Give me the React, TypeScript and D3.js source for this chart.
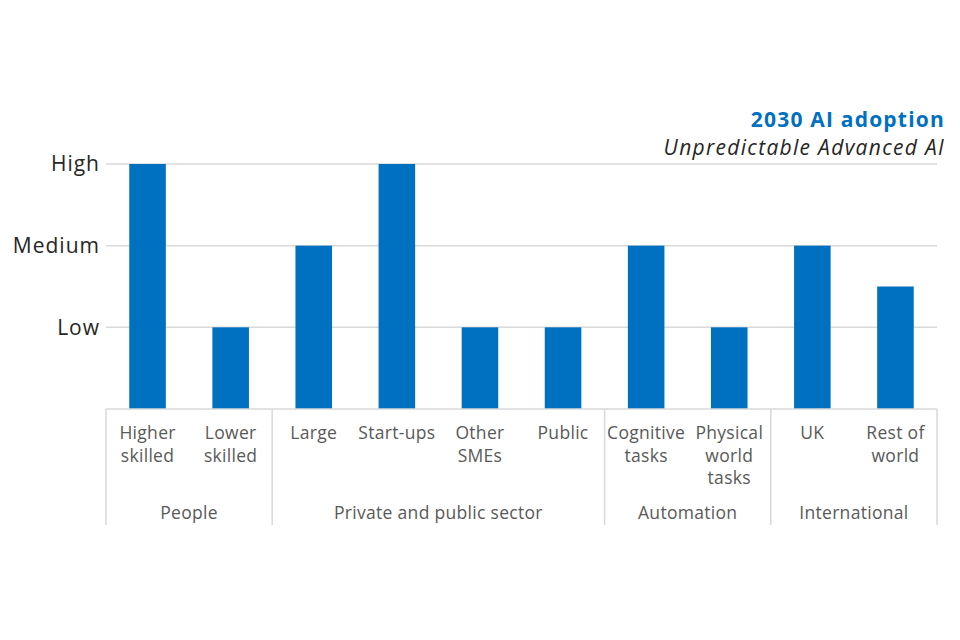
import React, { useEffect, useRef } from "react";
import * as d3 from "d3";

// categories, in order
const categories = [
  ["Higher", "skilled"],
  ["Lower", "skilled"],
  ["Large"],
  ["Start-ups"],
  ["Other", "SMEs"],
  ["Public"],
  ["Cognitive", "tasks"],
  ["Physical", "world", "tasks"],
  ["UK"],
  ["Rest of", "world"],
];

// adoption level: 1 = Low, 2 = Medium, 3 = High
const adoption = [3, 1, 2, 3, 1, 1, 2, 1, 2, 1.5];

const groups = ["People", "Private and public sector", "Automation", "International"];
const groupSizes = [2, 4, 2, 2];

const levelTicks = [1, 2, 3];
const levelLabels = ["Low", "Medium", "High"];

const App: React.FC = () => {
  const svgRef = useRef<SVGSVGElement>(null);

  useEffect(() => {
    if (!svgRef.current) return;

    const width = 960;
    const height = 640;
    const margin = { top: 164, right: 23, bottom: 231, left: 106 };
    const innerW = width - margin.left - margin.right;
    const innerH = height - margin.top - margin.bottom;

    const svg = d3.select(svgRef.current);
    svg.selectAll("*").remove();
    svg.attr("width", width).attr("height", height);

    const font = "'Open Sans', sans-serif";
    const blue = "#0070c0";
    const grey = "#d9d9d9";

    const g = svg
      .append("g")
      .attr("transform", `translate(${margin.left},${margin.top})`);

    const ids = categories.map((_, i) => String(i));

    const x = d3
      .scaleBand()
      .domain(ids)
      .range([0, innerW])
      .paddingInner(0.56)
      .paddingOuter(0.28);

    const y = d3.scaleLinear().domain([0, 3]).range([innerH, 0]);

    // GRIDLINES
    g.selectAll(".grid")
      .data(levelTicks)
      .enter()
      .append("line")
      .attr("x1", 0)
      .attr("x2", innerW)
      .attr("y1", d => y(d))
      .attr("y2", d => y(d))
      .attr("stroke", grey)
      .attr("stroke-width", 1.5);

    // Y LABELS
    g.selectAll(".ylab")
      .data(levelTicks)
      .enter()
      .append("text")
      .attr("x", -6)
      .attr("y", d => y(d))
      .attr("dy", "0.35em")
      .attr("text-anchor", "end")
      .style("font-family", font)
      .style("font-size", "21px")
      .style("letter-spacing", "1px")
      .style("fill", "#262626")
      .text((d, i) => levelLabels[i]);

    // BARS
    g.selectAll(".bar")
      .data(adoption)
      .enter()
      .append("rect")
      .attr("x", (d, i) => x(ids[i])!)
      .attr("y", d => y(d))
      .attr("width", x.bandwidth())
      .attr("height", d => innerH - y(d))
      .attr("fill", blue);

    // BASELINE
    g.append("line")
      .attr("x1", 0)
      .attr("x2", innerW)
      .attr("y1", innerH)
      .attr("y2", innerH)
      .attr("stroke", grey)
      .attr("stroke-width", 1.5);

    // CATEGORY LABELS
    const step = x.step();
    categories.forEach((lines, i) => {
      const cx = x(ids[i])! + x.bandwidth() / 2;
      const t = g
        .append("text")
        .attr("text-anchor", "middle")
        .style("font-family", font)
        .style("font-size", "17.5px")
        .style("letter-spacing", "0.3px")
        .style("fill", "#595959");
      lines.forEach((ln, j) => {
        t.append("tspan")
          .attr("x", cx)
          .attr("y", innerH + 30 + j * 22.5)
          .text(ln);
      });
    });

    // GROUP SEPARATORS + LABELS
    let idx = 0;
    const boundaries: number[] = [];
    groupSizes.forEach(n => {
      boundaries.push(idx);
      idx += n;
    });
    boundaries.push(idx);

    const bx = (k: number) =>
      k === 0
        ? 0
        : k >= categories.length
        ? innerW
        : x(ids[k])! - (step - x.bandwidth()) / 2;

    boundaries.forEach(k => {
      g.append("line")
        .attr("x1", bx(k))
        .attr("x2", bx(k))
        .attr("y1", innerH)
        .attr("y2", innerH + 116)
        .attr("stroke", grey)
        .attr("stroke-width", 1.5);
    });

    groups.forEach((name, gi) => {
      const a = bx(boundaries[gi]);
      const b = bx(boundaries[gi + 1]);
      g.append("text")
        .attr("x", (a + b) / 2)
        .attr("y", innerH + 110)
        .attr("text-anchor", "middle")
        .style("font-family", font)
        .style("font-size", "17.5px")
        .style("letter-spacing", "0.3px")
        .style("fill", "#595959")
        .text(name);
    });

    // TITLE
    svg
      .append("text")
      .attr("x", 945)
      .attr("y", 127)
      .attr("text-anchor", "end")
      .style("font-family", font)
      .style("font-size", "21px")
      .style("font-weight", "bold")
      .style("letter-spacing", "1.2px")
      .style("fill", blue)
      .text("2030 AI adoption");

    svg
      .append("text")
      .attr("x", 945)
      .attr("y", 155)
      .attr("text-anchor", "end")
      .style("font-family", font)
      .style("font-size", "21px")
      .style("font-style", "italic")
      .style("letter-spacing", "1.3px")
      .style("fill", "#262626")
      .text("Unpredictable Advanced AI");
  }, []);

  return <svg ref={svgRef} style={{ display: "block", margin: -8 }}></svg>;
};

export default App;
